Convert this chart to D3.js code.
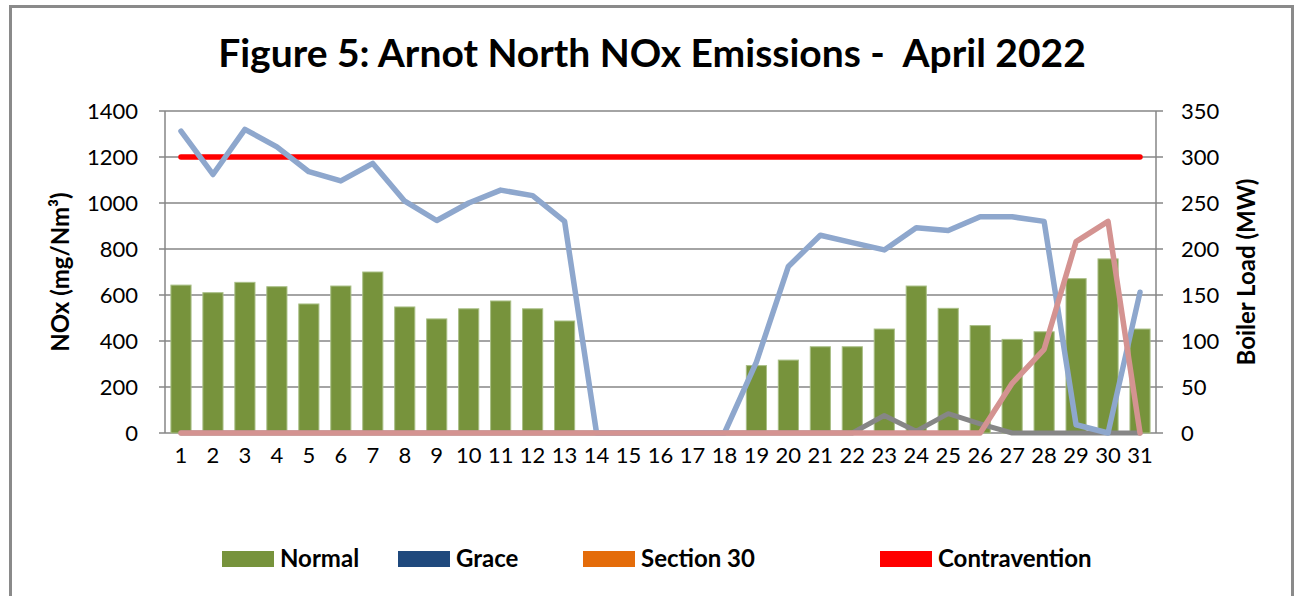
<!DOCTYPE html>
<html>
<head>
<meta charset="utf-8">
<script src="https://d3js.org/d3.v7.min.js"></script>
<style>
  body { margin: 0; background: #fff; }
  svg { font-family: Lato, 'Open Sans', sans-serif; display: block; }
</style>
</head>
<body>
<div id="chart"></div>
<script>
// categories: days of April 2022
var days = ["1","2","3","4","5","6","7","8","9","10","11","12","13","14","15","16",
            "17","18","19","20","21","22","23","24","25","26","27","28","29","30","31"];

// NOx (mg/Nm3), left axis - bars
var normal = [643,610,655,636,561,639,700,548,496,540,574,540,487,0,0,0,0,0,
              293,317,375,375,452,639,542,467,407,440,671,757,452];
// contravention limit (mg/Nm3), left axis
var limit = [1200,1200,1200,1200,1200,1200,1200,1200,1200,1200,1200,1200,1200,1200,1200,1200,
             1200,1200,1200,1200,1200,1200,1200,1200,1200,1200,1200,1200,1200,1200,1200];
// boiler load (MW), right axis
var loadBlue = [328,281,330,311,284,274,293,252,231,250,264,258,230,0,0,0,0,0,
                77,181,215,207,199,223,220,235,235,230,9,0,153];
var loadPink = [0,0,0,0,0,0,0,0,0,0,0,0,0,0,0,0,0,0,0,0,0,0,0,0,0,0,54,91,208,230,0];
var loadGrey = [0,0,0,0,0,0,0,0,0,0,0,0,0,0,0,0,0,0,0,0,0,0,19,2,21,10,0,0,0,0,0];

var leftTicks = [0,200,400,600,800,1000,1200,1400];
var rightTicks = [0,50,100,150,200,250,300,350];

var legendItems = ["Normal", "Grace", "Section 30", "Contravention"];
var legendColors = ["#77933C", "#1F497D", "#E46C0A", "#FF0000"];

var W = 1302, H = 596;
var plotL = 165, plotR = 1156, plotT = 111, plotB = 433;

var svg = d3.select("#chart").append("svg").attr("width", W).attr("height", H);
svg.append("rect").attr("width", W).attr("height", H).attr("fill", "#fff");

// outer frame
svg.append("rect").attr("x", 10.5).attr("y", 6.5).attr("width", 1282).attr("height", 620)
   .attr("fill", "none").attr("stroke", "#8a8a8a").attr("stroke-width", 3);

var x = d3.scaleBand().domain(days).range([plotL, plotR]).padding(0);
var yL = d3.scaleLinear().domain([0, 1400]).range([plotB, plotT]);
var yR = d3.scaleLinear().domain([0, 350]).range([plotB, plotT]);
var cx = function(d) { return x(d) + x.bandwidth() / 2; };

// gridlines
svg.append("g").selectAll("line").data(leftTicks).join("line")
   .attr("x1", plotL - 6).attr("x2", plotR + 7)
   .attr("y1", function(d) { return yL(d); }).attr("y2", function(d) { return yL(d); })
   .attr("stroke", "#868686").attr("stroke-width", 1.5);

// axis lines
svg.append("line").attr("x1", plotL).attr("x2", plotL).attr("y1", plotT).attr("y2", plotB)
   .attr("stroke", "#868686").attr("stroke-width", 1.5);
svg.append("line").attr("x1", plotR).attr("x2", plotR).attr("y1", plotT).attr("y2", plotB)
   .attr("stroke", "#868686").attr("stroke-width", 1.5);

// axes labels
var gl = svg.append("g").attr("transform", "translate(" + plotL + ",0)")
   .call(d3.axisLeft(yL).tickValues(leftTicks).tickSize(0).tickPadding(27).tickFormat(d3.format("d")));
var gr = svg.append("g").attr("transform", "translate(" + plotR + ",0)")
   .call(d3.axisRight(yR).tickValues(rightTicks).tickSize(0).tickPadding(25));
var gb = svg.append("g").attr("transform", "translate(0," + plotB + ")")
   .call(d3.axisBottom(x).tickSize(0).tickPadding(14));
[gl, gr, gb].forEach(function(g) {
  g.select(".domain").remove();
  g.selectAll("text").attr("font-size", 22).attr("fill", "#000")
   .attr("font-family", "Lato, 'Open Sans', sans-serif");
});

// bars
var bw = x.bandwidth() * 0.63;
svg.append("g").selectAll("rect").data(days).join("rect")
   .attr("x", function(d) { return cx(d) - bw / 2; })
   .attr("width", bw)
   .attr("y", function(d, i) { return yL(normal[i]); })
   .attr("height", function(d, i) { return plotB - yL(normal[i]); })
   .attr("fill", "#77933C")
   .attr("stroke", function(d, i) { return normal[i] > 0 ? "#a9bf86" : "none"; })
   .attr("stroke-width", 1);

function drawLine(values, scale, color, width) {
  var line = d3.line()
    .x(function(d, i) { return cx(days[i]); })
    .y(function(d) { return scale(d); });
  svg.append("path").datum(values).attr("d", line)
     .attr("fill", "none").attr("stroke", color).attr("stroke-width", width)
     .attr("stroke-linejoin", "round").attr("stroke-linecap", "round");
}

drawLine(limit, yL, "#FF0000", 5.5);
drawLine(loadGrey, yR, "#868686", 5);
drawLine(loadBlue, yR, "#8EA7CD", 5.5);
drawLine(loadPink, yR, "#D49391", 5.5);

// title
svg.append("text").attr("x", 652).attr("y", 67).attr("text-anchor", "middle")
   .attr("font-size", 39).attr("font-weight", "bold").style("white-space", "pre")
   .text("Figure 5: Arnot North NOx Emissions -  April 2022");

// axis titles
svg.append("text").attr("transform", "translate(69," + ((plotT + plotB) / 2) + ") rotate(-90)")
   .attr("text-anchor", "middle").attr("font-size", 24).attr("font-weight", "bold")
   .text("NOx (mg/Nm³)");
svg.append("text").attr("transform", "translate(1255," + ((plotT + plotB) / 2) + ") rotate(-90)")
   .attr("text-anchor", "middle").attr("font-size", 24).attr("font-weight", "bold")
   .text("Boiler Load (MW)");

// legend
var legendX = [222, 398, 583, 880];
var lg = svg.append("g").selectAll("g").data(legendItems).join("g")
   .attr("transform", function(d, i) { return "translate(" + legendX[i] + ",551)"; });
lg.append("rect").attr("width", 52).attr("height", 16)
   .attr("fill", function(d, i) { return legendColors[i]; });
lg.append("text").attr("x", 58).attr("y", 16).attr("font-size", 24).attr("font-weight", "bold")
   .text(function(d) { return d; });
</script>
</body>
</html>
